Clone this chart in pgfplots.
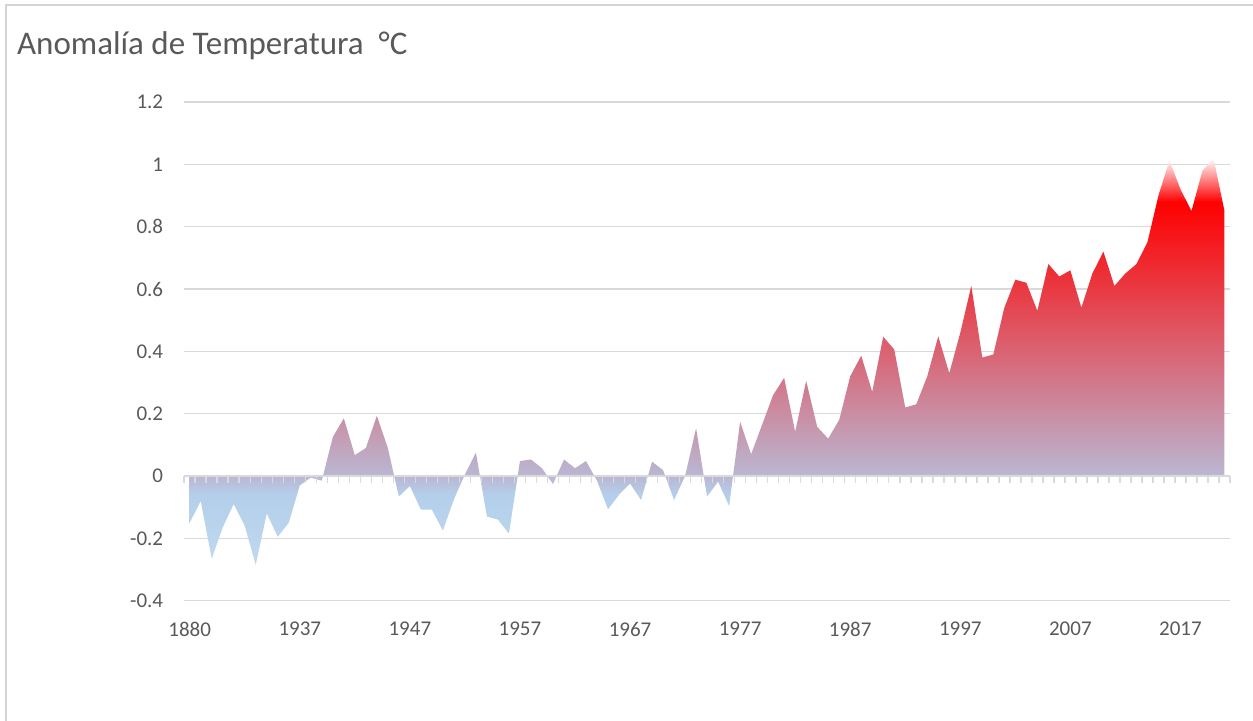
\documentclass[border=0pt]{standalone}
\usepackage{fontspec}
\setmainfont{Carlito}
\usepackage{pgfplots}
\usepackage{pgfplotstable}
\pgfplotsset{compat=1.18}
\definecolor{txtgray}{RGB}{89,89,89}
\definecolor{gridgray}{RGB}{217,217,217}
\definecolor{framegray}{RGB}{212,212,212}
\definecolor{cblue}{RGB}{192,217,239}
\definecolor{cblue2}{RGB}{180,207,235}
\definecolor{cmid}{RGB}{186,183,211}
\definecolor{cred}{RGB}{255,0,0}
\pgfdeclareverticalshading{temp}{100bp}{color(0bp)=(cblue); color(25bp)=(cblue); color(33.6bp)=(cblue2); color(35.9bp)=(cmid); color(69.6bp)=(cred); color(75bp)=(white); color(100bp)=(white)}

\pgfplotstableread{
i v
0 -0.15
1 -0.08
2 -0.265
3 -0.165
4 -0.09
5 -0.16
6 -0.285
7 -0.12
8 -0.195
9 -0.15
10 -0.03
11 -0.005
12 -0.015
13 0.125
14 0.185
15 0.067
16 0.09
17 0.193
18 0.09
19 -0.066
20 -0.032
21 -0.108
22 -0.108
23 -0.175
24 -0.075
25 0.005
26 0.075
27 -0.13
28 -0.14
29 -0.185
30 0.048
31 0.053
32 0.025
33 -0.026
34 0.053
35 0.025
36 0.048
37 -0.015
38 -0.107
39 -0.06
40 -0.024
41 -0.077
42 0.046
43 0.019
44 -0.077
45 0.0
46 0.153
47 -0.066
48 -0.018
49 -0.096
50 0.174
51 0.07
52 0.165
53 0.26
54 0.315
55 0.142
56 0.305
57 0.158
58 0.12
59 0.18
60 0.32
61 0.386
62 0.27
63 0.447
64 0.406
65 0.22
66 0.23
67 0.32
68 0.448
69 0.33
70 0.46
71 0.61
72 0.38
73 0.39
74 0.54
75 0.63
76 0.62
77 0.53
78 0.68
79 0.64
80 0.66
81 0.54
82 0.65
83 0.72
84 0.61
85 0.65
86 0.68
87 0.75
88 0.90
89 1.012
90 0.92
91 0.85
92 0.98
93 1.02
94 0.85
}\datatable

\begin{document}
\begin{tikzpicture}
\useasboundingbox (0,0) rectangle (626.5pt,360.5pt);
\begin{scope}
\clip (0,0) rectangle (626.5pt,360.5pt);
\draw[framegray, line width=0.75pt] (2.9pt,-10pt) -- (2.9pt,358.1pt) -- (640pt,358.1pt);
\end{scope}
\node[anchor=base west, font=\fontsize{16.5}{20}\selectfont, text=txtgray, inner sep=0pt] at (8.35pt,333pt) {Anomalía de Temperatura\hspace{0.45em}°C};

\begin{axis}[
  at={(92.1pt,60.15pt)}, anchor=south west, scale only axis,
  width=522.9pt, height=249.35pt,
  xmin=-0.5, xmax=94.5, ymin=-0.4, ymax=1.2,
  axis line style={draw=none},
  ytick={-0.4,-0.2,0,0.2,0.4,0.6,0.8,1,1.2},
  yticklabels={-0.4,-0.2,0,0.2,0.4,0.6,0.8,1,1.2},
  xtick={0,10,20,30,40,50,60,70,80,90},
  xticklabels={1880,1937,1947,1957,1967,1977,1987,1997,2007,2017},
  ymajorgrids, grid style={gridgray, line width=0.75pt},
  major tick length=0pt,
  tick label style={font=\fontsize{10.5}{12}\selectfont, text=txtgray},
  xticklabel style={anchor=center, yshift=-14.15pt},
  yticklabel style={anchor=east, inner sep=0pt, xshift=-10.35pt},
]
\addplot[draw=none, shade, shading=temp] table[x=i,y=v]{\datatable} \closedcycle;
\end{axis}

\begin{axis}[
  at={(92.1pt,60.15pt)}, anchor=south west, scale only axis,
  width=522.9pt, height=249.35pt,
  xmin=-0.5, xmax=94.5, ymin=-0.4, ymax=1.2,
  axis x line=middle, axis y line=none,
  xtick={-0.5,0.5,...,94.5}, xticklabels={},
  ytick=\empty,
  xtick align=outside, major tick length=3.5pt,
  tick style={gridgray, line width=0.75pt},
  axis line style={gridgray, line width=0.75pt, -},
]
\end{axis}
\end{tikzpicture}
\end{document}
